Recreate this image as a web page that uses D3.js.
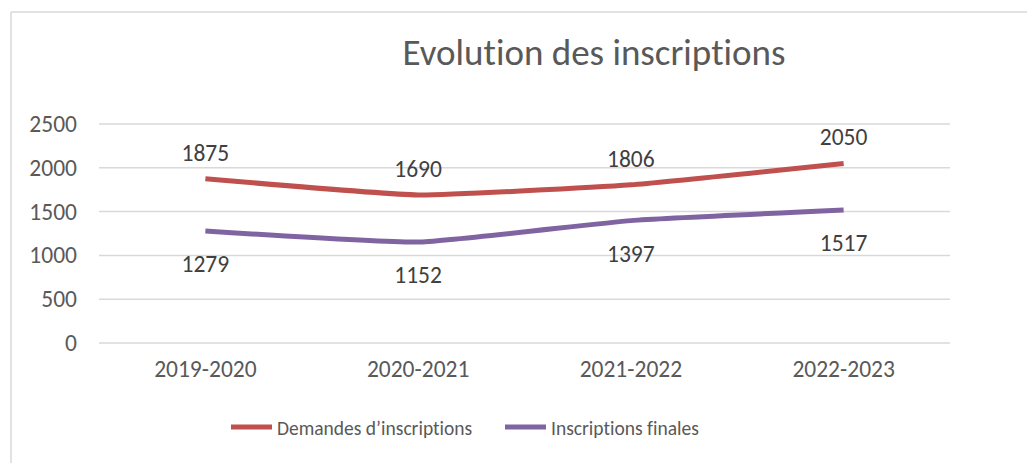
<!DOCTYPE html>
<html>
<head>
<meta charset="utf-8">
<script src="https://cdn.jsdelivr.net/npm/d3@7"></script>
<style>
  body { margin: 0; background: #fff; }
  text {
    font-family: Calibri, Carlito, "Open Sans", sans-serif;
    font-variant-ligatures: none;
    font-feature-settings: "liga" 0, "clig" 0, "dlig" 0;
  }
</style>
</head>
<body>
<script>
const years = ["2019-2020", "2020-2021", "2021-2022", "2022-2023"];
const demandes = [1875, 1690, 1806, 2050];
const finales = [1279, 1152, 1397, 1517];
const yTicks = [0, 500, 1000, 1500, 2000, 2500];

const width = 1027;
const height = 463;
const margin = { top: 124, right: 77, bottom: 120, left: 99 };
const fontStack = "Calibri, Carlito, 'Open Sans', sans-serif";

const series = [
  { name: "Demandes d\u2019inscriptions", values: demandes, color: "#c0504d", labelDy: -18 },
  { name: "Inscriptions finales", values: finales, color: "#8064a2", labelDy: 41 }
];

const svg = d3.select("body").append("svg")
  .attr("width", width)
  .attr("height", height);

// chart frame (only top and left edges are in view)
svg.append("line").attr("x1", 11).attr("x2", width).attr("y1", 12).attr("y2", 12)
  .attr("stroke", "#d9d9d9").attr("stroke-width", 1.5);
svg.append("line").attr("x1", 11).attr("x2", 11).attr("y1", 12).attr("y2", height)
  .attr("stroke", "#d9d9d9").attr("stroke-width", 1.5);

const x = d3.scaleBand()
  .domain(years)
  .range([margin.left, width - margin.right]);

const y = d3.scaleLinear()
  .domain([0, 2500])
  .range([height - margin.bottom, margin.top]);

svg.append("text")
  .attr("x", 594)
  .attr("y", 65)
  .attr("text-anchor", "middle")
  .attr("font-size", 37)
  .attr("fill", "#595959")
  .text("Evolution des inscriptions");

// gridlines
svg.append("g")
  .selectAll("line")
  .data(yTicks)
  .join("line")
  .attr("x1", margin.left)
  .attr("x2", width - margin.right)
  .attr("y1", d => y(d))
  .attr("y2", d => y(d))
  .attr("stroke", "#d9d9d9")
  .attr("stroke-width", 1.5);

const yAxis = svg.append("g")
  .attr("transform", `translate(${margin.left},0)`)
  .call(d3.axisLeft(y).tickValues(yTicks).tickFormat(d3.format("d")).tickSize(0).tickPadding(22));
yAxis.select(".domain").remove();
yAxis.selectAll("text")
  .attr("font-size", 23.5)
  .attr("fill", "#595959")
  .attr("font-family", fontStack);

const xAxis = svg.append("g")
  .attr("transform", `translate(0,${height - margin.bottom})`)
  .call(d3.axisBottom(x).tickSize(0).tickPadding(17));
xAxis.select(".domain").remove();
xAxis.selectAll("text")
  .attr("font-size", 23.5)
  .attr("fill", "#595959")
  .attr("font-family", fontStack);

const line = d3.line()
  .x((d, i) => x(years[i]) + x.bandwidth() / 2)
  .y(d => y(d))
  .curve(d3.curveCardinal.tension(0.6));

svg.append("g")
  .selectAll("path")
  .data(series)
  .join("path")
  .attr("d", s => line(s.values))
  .attr("fill", "none")
  .attr("stroke", s => s.color)
  .attr("stroke-width", 5)
  .attr("stroke-linecap", "butt");

series.forEach(s => {
  svg.append("g")
    .selectAll("text")
    .data(s.values)
    .join("text")
    .attr("x", (d, i) => x(years[i]) + x.bandwidth() / 2)
    .attr("y", d => y(d) + s.labelDy)
    .attr("text-anchor", "middle")
    .attr("font-size", 23.5)
    .attr("fill", "#404040")
    .text(d => d);
});

// legend
const legendX = [231, 505];
const legend = svg.append("g")
  .selectAll("g")
  .data(series)
  .join("g")
  .attr("transform", (d, i) => `translate(${legendX[i]},427)`);
legend.append("line")
  .attr("x1", 0).attr("x2", 41)
  .attr("stroke", d => d.color)
  .attr("stroke-width", 5);
legend.append("text")
  .attr("x", 46)
  .attr("y", 8)
  .attr("font-size", 19.5)
  .attr("fill", "#595959")
  .text(d => d.name);
</script>
</body>
</html>
